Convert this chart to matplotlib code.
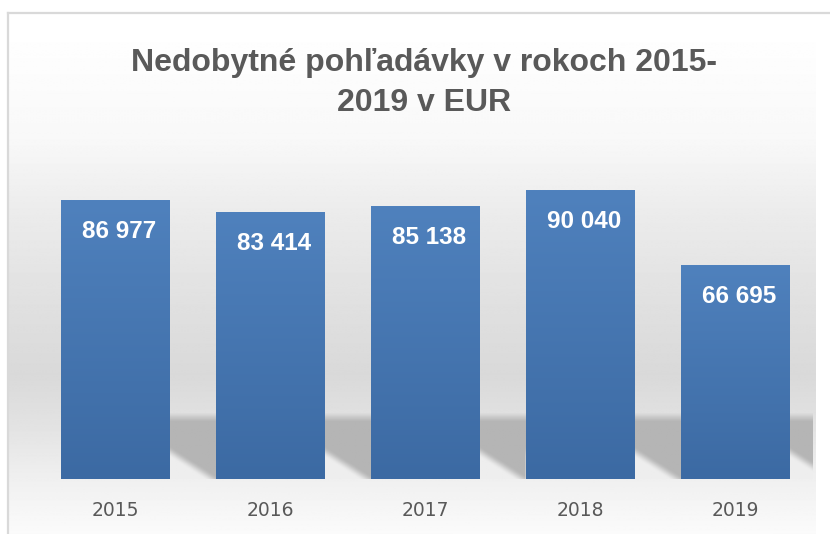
import numpy as np
import matplotlib
matplotlib.use("Agg")
import matplotlib.pyplot as plt
from matplotlib.lines import Line2D
from matplotlib.colors import LinearSegmentedColormap

# data
years = ["2015", "2016", "2017", "2018", "2019"]
amounts = [86977, 83414, 85138, 90040, 66695]
title = "Nedobytné pohľadávky v rokoch 2015-\n2019 v EUR"

W, H = 830, 534
fig = plt.figure(figsize=(W / 100, H / 100), dpi=100)
fig.patch.set_facecolor("white")

# chart area background: soft vertical gray gradient (pixel rows from top)
bg = fig.add_axes([0, 0, 1, 1], zorder=-10)
bg.set_xlim(0, W)
bg.set_ylim(H, 0)
bg.axis("off")
rows = np.arange(H)
stops_y = [13, 130, 200, 300, 370, 420, 479, 534]
stops_v = [255, 248, 236, 224, 217, 226, 240, 251]
col = np.interp(rows, stops_y, stops_v) / 255.0
grad = np.repeat(col[:, None], 2, axis=1)
bg.imshow(grad, cmap="gray", vmin=0, vmax=1, aspect="auto",
          extent=(8, 815, H, 13), interpolation="bilinear")
bg.add_line(Line2D([8, 8], [H, 13], color="#d9d9d9", lw=1.6))
bg.add_line(Line2D([8, W], [13, 13], color="#d9d9d9", lw=1.6))

# plot area
ax = fig.add_axes([38 / W, 1 - 479 / H, 775 / W, 320.5 / H])
ax.set_facecolor("none")
x = np.arange(len(years))
bars = ax.bar(x, amounts, width=0.703, color="#4a79b5", zorder=3)
ax.set_xlim(-0.5, len(years) - 0.5)
ax.set_ylim(0, 100000)

# floor shadow behind the bars
nx, ny = 800, 70
band_h = 66 / 320.5
u_pix = np.linspace(23, 777, nx)             # px from plot-area left
yy = np.linspace(0, 1, ny)[:, None]          # 0 top of band, 1 bottom
period = 155.0
local = ((u_pix - 23) % period - 109) / 46.0  # 0..1 inside a gap
local = np.clip(local, 0, 1)[None, :]
top_ramp = np.clip(yy / 0.12, 0, 1)
shade = 220 - (220 - 181) * top_ramp
thr = 0.50 + 0.45 * local
light = np.clip((yy - thr) / 0.18, 0, 1)
light = light * light * (3 - 2 * light)
shade = shade + (238 - shade) * light
img = np.broadcast_to(shade, (ny, nx)) / 255.0
ax.imshow(img, cmap="gray", vmin=0, vmax=1, aspect="auto",
          extent=(23 / 775, 777 / 775, 0, band_h), transform=ax.transAxes,
          interpolation="bilinear", zorder=1)

# vertical gradient on each bar
bar_grad = np.linspace(0, 1, 100)[:, None]
bar_cmap = LinearSegmentedColormap.from_list("barg", ["#3c6aa3", "#4f81bd"])
for b in bars:
    bx, by = b.get_x(), b.get_y()
    im = ax.imshow(bar_grad, cmap=bar_cmap, aspect="auto", origin="lower",
                   extent=(bx, bx + b.get_width(), by, by + b.get_height()),
                   zorder=4)
    im.set_clip_path(b)
    ax.annotate(f"{b.get_height():,.0f}".replace(",", " "),
                (bx + b.get_width() / 2, by + b.get_height()),
                xytext=(2.5, -27.4), textcoords="offset points",
                ha="center", va="baseline", color="white",
                fontsize=17.5, fontweight="bold", family="Liberation Sans",
                zorder=5)

ax.set_xlim(-0.5, len(years) - 0.5)
ax.set_ylim(0, 100000)
ax.set_xticks(x)
ax.set_xticklabels(years, fontsize=13.5, color="#595959", family="DejaVu Sans")
ax.tick_params(axis="x", length=0, pad=15.5)
ax.set_yticks([])
for s in ax.spines.values():
    s.set_visible(False)

fig.text(424 / W, 1 - 83 / H, title, ha="center", va="center",
         fontsize=23, fontweight="bold", color="#595959",
         family="Liberation Sans", linespacing=1.42)

fig.savefig("out.png", dpi=100)
